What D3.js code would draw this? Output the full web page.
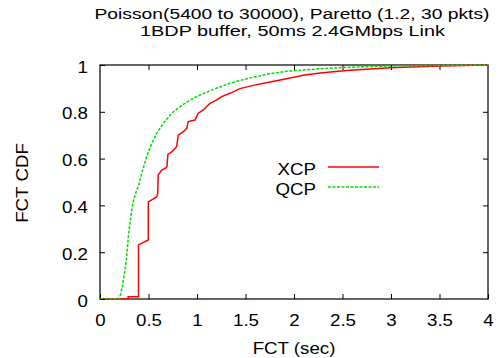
<!DOCTYPE html>
<html>
<head>
<meta charset="utf-8">
<script src="https://cdn.jsdelivr.net/npm/d3@7"></script>
<style>
  html, body { margin: 0; padding: 0; background: #fff; }
  svg { display: block; }
  text { font-family: "Liberation Sans", Arial, Helvetica, sans-serif; fill: #000; }
</style>
</head>
<body>
<svg id="chart" width="500" height="358"></svg>
<script>
// ---- Data ----
const titleLines = ["Poisson(5400 to 30000), Paretto (1.2, 30 pkts)", "1BDP buffer, 50ms 2.4GMbps Link"];
const xLabel = "FCT (sec)";
const yLabel = "FCT CDF";
const xTicks = [0, 0.5, 1, 1.5, 2, 2.5, 3, 3.5, 4];
const yTicks = [0, 0.2, 0.4, 0.6, 0.8, 1];
const seriesNames = ["XCP", "QCP"];

// XCP: FCT (sec) and CDF
const xcpFct = [0, 0.29, 0.29, 0.397, 0.397, 0.498, 0.498, 0.584, 0.595, 0.6, 0.636, 0.68, 0.69,
  0.70, 0.739, 0.79, 0.807, 0.859, 0.894, 0.91, 0.979, 1.013, 1.065, 1.116, 1.134, 1.2, 1.254, 1.34,
  1.443, 1.58, 1.753, 1.924, 2.096, 2.268, 2.543, 2.99, 3.505, 4.0];
const xcpCdf = [0, 0, 0.01, 0.01, 0.231, 0.252, 0.415, 0.436, 0.45, 0.53, 0.551, 0.56, 0.565,
  0.618, 0.629, 0.651, 0.70, 0.715, 0.729, 0.758, 0.765, 0.794, 0.808, 0.829, 0.836, 0.85, 0.865, 0.879,
  0.899, 0.913, 0.927, 0.941, 0.956, 0.966, 0.977, 0.988, 0.996, 1.0];

// QCP: FCT (sec) and CDF
const qcpFct = [0, 0.2, 0.206, 0.23, 0.258, 0.275, 0.292, 0.309, 0.327, 0.343, 0.378, 0.395, 0.43,
  0.481, 0.533, 0.584, 0.653, 0.739, 0.825, 0.928, 1.031, 1.134, 1.34, 1.546, 1.753, 1.924, 2.268,
  2.543, 2.99, 3.505, 4.0];
const qcpCdf = [0, 0, 0.01, 0.053, 0.124, 0.181, 0.266, 0.323, 0.38, 0.416, 0.466, 0.48, 0.537,
  0.608, 0.665, 0.708, 0.751, 0.794, 0.822, 0.85, 0.872, 0.89, 0.922, 0.945, 0.963, 0.973, 0.984,
  0.99, 0.996, 0.998, 1.0];

// ---- Drawing ----
const svg = d3.select("#chart");
const W = 500, H = 358;
const plot = { left: 100, right: 488, top: 65, bottom: 299 };
const fs = 17;

const x = d3.scaleLinear().domain([0, 4]).range([plot.left, plot.right]);
const y = d3.scaleLinear().domain([0, 1]).range([plot.bottom, plot.top]);

svg.append("rect").attr("width", W).attr("height", H).attr("fill", "#fff");

// Axes with inward ticks (gnuplot style, mirrored)
const tickLen = 5;
const gx = svg.append("g").attr("transform", `translate(0,${plot.bottom})`)
  .call(d3.axisBottom(x).tickValues(xTicks).tickSizeInner(-tickLen).tickSizeOuter(0)
    .tickFormat(d3.format("")));
const gxTop = svg.append("g").attr("transform", `translate(0,${plot.top})`)
  .call(d3.axisTop(x).tickValues(xTicks.slice(1, -1)).tickSizeInner(-tickLen).tickSizeOuter(0).tickFormat(""));
const gy = svg.append("g").attr("transform", `translate(${plot.left},0)`)
  .call(d3.axisLeft(y).tickValues(yTicks).tickSizeInner(-tickLen).tickSizeOuter(0)
    .tickFormat(d3.format("")));
const gyR = svg.append("g").attr("transform", `translate(${plot.right},0)`)
  .call(d3.axisRight(y).tickValues(yTicks.slice(1, -1)).tickSizeInner(-tickLen).tickSizeOuter(0).tickFormat(""));

[gx, gxTop, gy, gyR].forEach(g => {
  g.select(".domain").remove();
  g.selectAll(".tick line").attr("stroke", "#000").attr("stroke-width", 1);
});

gx.selectAll(".tick text").attr("font-size", fs).attr("font-family", null)
  .attr("y", 0).attr("dy", null)
  .attr("transform", "translate(0,27) scale(1.1,1)");
gy.selectAll(".tick text").attr("font-size", fs).attr("font-family", null)
  .attr("x", 0).attr("dy", null).attr("text-anchor", "end")
  .attr("transform", "translate(-12,7) scale(1.1,1)");

// Frame
svg.append("rect")
  .attr("x", plot.left).attr("y", plot.top)
  .attr("width", plot.right - plot.left).attr("height", plot.bottom - plot.top)
  .attr("fill", "none").attr("stroke", "#000").attr("stroke-width", 1.2);

// Lines
const line = d3.line().x(d => x(d[0])).y(d => y(d[1]));
const xcp = xcpFct.map((v, i) => [v, xcpCdf[i]]);
const qcp = qcpFct.map((v, i) => [v, qcpCdf[i]]);

svg.append("clipPath").attr("id", "clip").append("rect")
  .attr("x", plot.left).attr("y", plot.top - 2)
  .attr("width", plot.right - plot.left).attr("height", plot.bottom - plot.top + 2);

const gLines = svg.append("g").attr("clip-path", "url(#clip)");
gLines.append("path").datum(xcp).attr("d", line)
  .attr("fill", "none").attr("stroke", "#ff0000").attr("stroke-width", 1.5);
gLines.append("path").datum(qcp).attr("d", line)
  .attr("fill", "none").attr("stroke", "#00dd00").attr("stroke-width", 1.5)
  .attr("stroke-dasharray", "3,1.5");

// Legend
const legend = [
  { name: seriesNames[0], color: "#ff0000", dash: null },
  { name: seriesNames[1], color: "#00dd00", dash: "3,1.5" }
];
legend.forEach((d, i) => {
  const ly = 167 + i * 20;
  svg.append("text").attr("text-anchor", "end").attr("font-size", fs)
    .attr("transform", `translate(316,${ly + 8}) scale(1.1,1)`).text(d.name);
  svg.append("line").attr("x1", 328).attr("x2", 379).attr("y1", ly).attr("y2", ly)
    .attr("stroke", d.color).attr("stroke-width", 1.5)
    .attr("stroke-dasharray", d.dash);
});

// Title
svg.append("text").attr("text-anchor", "middle").attr("font-size", 15.5)
  .attr("x", 292).attr("y", 19)
  .attr("textLength", 395).attr("lengthAdjust", "spacingAndGlyphs").text(titleLines[0]);
svg.append("text").attr("text-anchor", "middle").attr("font-size", 15.5)
  .attr("x", 292.5).attr("y", 36)
  .attr("textLength", 305).attr("lengthAdjust", "spacingAndGlyphs").text(titleLines[1]);

// Axis labels
svg.append("text").attr("text-anchor", "middle").attr("font-size", fs)
  .attr("transform", "translate(294,354) scale(1.1,1)").text(xLabel);
svg.append("text").attr("text-anchor", "middle").attr("font-size", fs)
  .attr("transform", "translate(28,183) rotate(-90) scale(1.1,1)").text(yLabel);
</script>
</body>
</html>
